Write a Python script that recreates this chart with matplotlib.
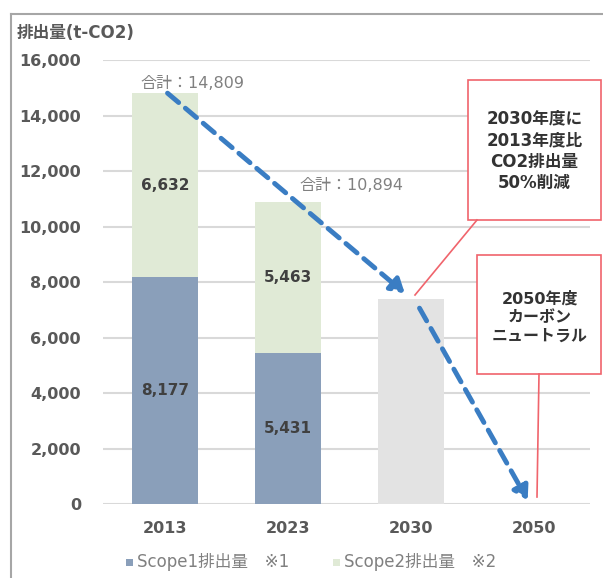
import numpy as np
import matplotlib.pyplot as plt
from matplotlib.patches import Rectangle, FancyArrowPatch
from matplotlib.lines import Line2D

plt.rcParams['font.family'] = ['DejaVu Sans', 'Noto Sans CJK JP']

# data
years = ['2013', '2023', '2030', '2050']
scope1 = [8177, 5431]
scope2 = [6632, 5463]
totals = [14809, 10894]
target_2030 = 7405
yticks = [0, 2000, 4000, 6000, 8000, 10000, 12000, 14000, 16000]

c_s1 = '#8a9fba'
c_s2 = '#e0ead6'
c_target = '#e3e3e3'
c_arrow = '#3a7dc3'
c_red = '#f0646c'
c_txt = '#595959'
num_font = 'DejaVu Sans'

fig = plt.figure(figsize=(6.03, 5.78), dpi=100)
ax = fig.add_axes([0.171, 0.128, 0.807, 0.768])

x = np.arange(len(years))
w = 0.54
ax.bar(x[:2], scope1, w, color=c_s1, zorder=2)
ax.bar(x[:2], scope2, w, bottom=scope1, color=c_s2, zorder=2)
ax.bar(x[2], target_2030, w, color=c_target, zorder=2)

for i in range(2):
    ax.text(x[i], scope1[i] / 2, f'{scope1[i]:,}', ha='center', va='center', family=num_font,
            fontsize=11, fontweight='bold', color='#404040', zorder=3)
    ax.text(x[i], scope1[i] + scope2[i] / 2, f'{scope2[i]:,}', ha='center', va='center',
            family=num_font, fontsize=11, fontweight='bold', color='#404040', zorder=3)
ax.text(0.22, totals[0] + 330, f'合計：{totals[0]:,}', ha='center', va='center',
        fontsize=11.5, color='#808080')
ax.text(1.52, totals[1] + 600, f'合計：{totals[1]:,}', ha='center', va='center',
        fontsize=11.5, color='#808080')

ax.set_xlim(-0.504, 3.455)
ax.set_ylim(0, 16000)
ax.set_yticks(yticks)
ax.set_yticklabels([f'{v:,}' for v in yticks], fontsize=11.5, fontweight='bold', color=c_txt,
                   family=num_font)
ax.set_xticks(x)
ax.set_xticklabels(years, fontsize=11.5, fontweight='bold', color=c_txt, family=num_font)
ax.tick_params(length=0, pad=16)
ax.tick_params(axis='x', pad=12)
for s in ax.spines.values():
    s.set_visible(False)
ax.grid(axis='y', color='#d9d9d9', lw=1.5, zorder=0)
ax.set_axisbelow(True)

# dashed arrows
a1 = FancyArrowPatch((0.02, totals[0]), (1.95, 7600), arrowstyle='-|>,head_length=8,head_width=5',
                     linestyle=(0, (3, 1.8)), lw=3.5, color=c_arrow, zorder=4, shrinkA=0, shrinkB=0)
a2 = FancyArrowPatch((2.07, 7060), (2.95, 140), arrowstyle='-|>,head_length=8,head_width=5',
                     linestyle=(0, (3, 1.8)), lw=3.5, color=c_arrow, zorder=4, shrinkA=0, shrinkB=0)
ax.add_patch(a1)
ax.add_patch(a2)

# callout boxes (figure coords)
def fx(px):
    return px / 603

def fy(py):
    return 1 - py / 578

fig.add_artist(Line2D([fx(477), fx(415)], [fy(220), fy(295)], color=c_red, lw=1.2))
fig.add_artist(Line2D([fx(539), fx(537)], [fy(374), fy(497)], color=c_red, lw=1.2))
fig.add_artist(Rectangle((fx(468), fy(220)), fx(133), 140 / 578, facecolor='white',
                         edgecolor=c_red, lw=1.2))
fig.add_artist(Rectangle((fx(477), fy(374)), fx(124), 119 / 578, facecolor='white',
                         edgecolor=c_red, lw=1.2))
fig.text(fx(534.5), fy(151), '2030年度に\n2013年度比\nCO2排出量\n50%削減', ha='center', va='center',
         fontsize=12, fontweight='bold', color='#333333', linespacing=1.25)
fig.text(fx(540), fy(317), '2050年度\nカーボン\nニュートラル', ha='center', va='center',
         fontsize=11.5, fontweight='bold', color='#333333', linespacing=1.3)

# axis title
fig.text(fx(17), fy(33), '排出量(t-CO2)', ha='left', va='center', fontsize=12,
         fontweight='bold', color=c_txt)

# legend
fig.add_artist(Rectangle((fx(126), fy(566)), fx(7), 7 / 578, facecolor=c_s1, edgecolor='none'))
fig.text(fx(137), fy(562), 'Scope1排出量　※1', ha='left', va='center', fontsize=12, color='#808080')
fig.add_artist(Rectangle((fx(333), fy(566)), fx(7), 7 / 578, facecolor=c_s2, edgecolor='none'))
fig.text(fx(344), fy(562), 'Scope2排出量　※2', ha='left', va='center', fontsize=12, color='#808080')

# outer frame
fig.add_artist(Line2D([fx(11), fx(11)], [fy(14), 0], color='#a6a6a6', lw=1.5))
fig.add_artist(Line2D([fx(11), 1], [fy(14), fy(14)], color='#a6a6a6', lw=1.5))

fig.savefig('out.png', dpi=100)
